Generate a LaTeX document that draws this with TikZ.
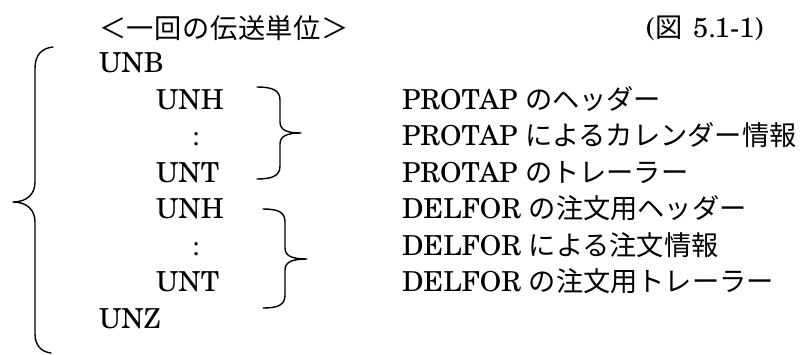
\documentclass[tikz,border=0pt]{standalone}
\usepackage{fontspec}
\IfFontExistsTF{TeX Gyre Schola}{\setmainfont{TeX Gyre Schola}}{}
\newfontfamily\cjk{Noto Sans CJK JP}[Scale=0.99]
\newcommand\tk{\kern0.6pt}
\begin{document}
\begin{tikzpicture}[x=1pt,y=-1pt,
  txt/.style={anchor=base west,inner sep=0pt,outer sep=0pt,font=\fontsize{27.5}{33}\selectfont},
  colon/.style={anchor=base,inner sep=0pt,outer sep=0pt,font=\fontsize{27.5}{33}\selectfont},
  bracepath/.style={line width=1.4pt,line cap=round,line join=round}]
\useasboundingbox (0,0) rectangle (808,354);
% title row
\node[txt] (title) at (99,38) {\cjk ＜\tk 一\tk 回\tk の\tk 伝\tk 送\tk 単\tk 位\tk ＞};
\node[txt] (fig) at (646,37) {({\cjk 図}\kern3pt{} 5.1-1)};
% left column
\node[txt] (unb) at (99,72.7) {UNB};
\node[txt] (unh1) at (156,109.2) {UNH};
\node[colon] (c1) at (196,145.7) {:};
\node[txt] (unt1) at (156,182.2) {UNT};
\node[txt] (unh2) at (156,218.7) {UNH};
\node[colon] (c2) at (196,255.2) {:};
\node[txt] (unt2) at (156,291.7) {UNT};
\node[txt] (unz) at (99,328.2) {UNZ};
% right column
\node[txt] (r1) at (402,109.2) {PROTAP {\cjk のヘッダー}};
\node[txt] (r2) at (402,145.7) {PROTAP {\cjk によるカレンダー情報}};
\node[txt] (r3) at (402,182.2) {PROTAP {\cjk のトレーラー}};
\node[txt] (r4) at (402,218.7) {DELFOR {\cjk の注文用ヘッダー}};
\node[txt] (r5) at (402,255.2) {DELFOR {\cjk による注文情報}};
\node[txt] (r6) at (402,291.7) {DELFOR {\cjk の注文用トレーラー}};
% big left brace
\draw[bracepath] (53,47) .. controls (42,48) and (35,55) .. (35,68)
  -- (35,182) .. controls (35,194) and (27,202) .. (13,202)
  .. controls (27,202) and (35,210) .. (35,222)
  -- (35,334) .. controls (35,346) and (42,352) .. (51,353);
% first right brace
\draw[bracepath] (257,87) .. controls (272,87) and (280,90) .. (280,100)
  -- (280,122) .. controls (280,130) and (287,133) .. (301,133)
  .. controls (287,133) and (280,136) .. (280,144)
  -- (280,166) .. controls (280,176) and (272,179) .. (257,179);
% second right brace
\draw[bracepath] (263,209) .. controls (278,209) and (285,212) .. (285,222)
  -- (285,248) .. controls (285,256) and (292,259) .. (307,259)
  .. controls (292,259) and (285,262) .. (285,270)
  -- (285,295) .. controls (285,305) and (278,308) .. (263,308);
\end{tikzpicture}
\end{document}
